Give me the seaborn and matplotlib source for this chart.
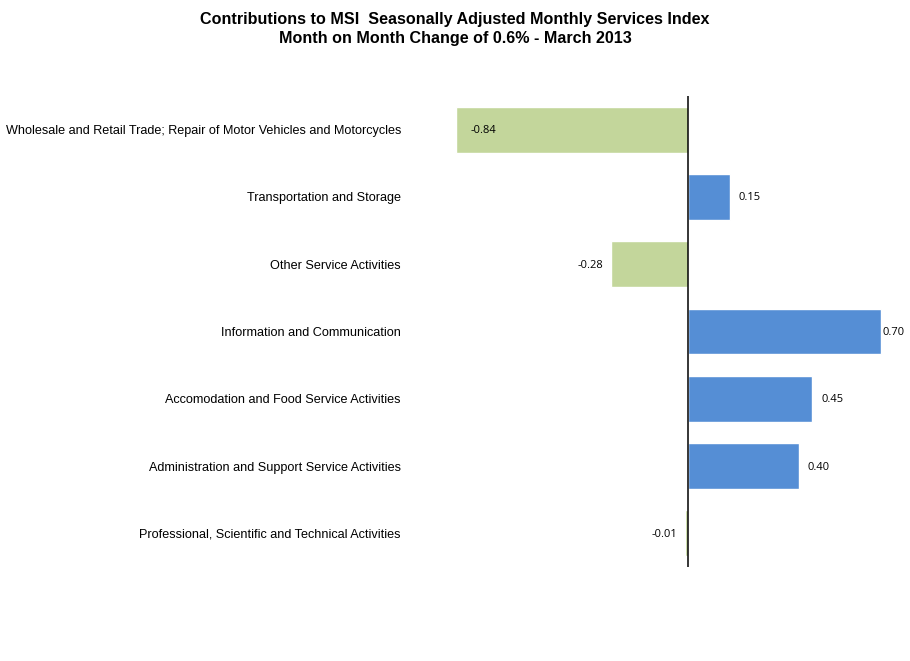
import matplotlib
matplotlib.use("Agg")
import matplotlib.pyplot as plt
import seaborn as sns
import pandas as pd
from matplotlib import transforms

categories = [
    "Wholesale and Retail Trade; Repair of Motor Vehicles and Motorcycles",
    "Transportation and Storage",
    "Other Service Activities",
    "Information and Communication",
    "Accomodation and Food Service Activities",
    "Administration and Support Service Activities",
    "Professional, Scientific and Technical Activities",
]
values = [-0.84, 0.15, -0.28, 0.70, 0.45, 0.40, -0.01]
value_labels = ["-0.84", "0.15", "-0.28", "0.70", "0.45", "0.40", "-0.01"]

title = ("Contributions to MSI  Seasonally Adjusted Monthly Services Index\n"
         "Month on Month Change of 0.6% - March 2013")

GREEN = "#C3D69B"
BLUE = "#558ED5"

sns.set_theme(style="white")
plt.rcParams["font.family"] = ["Liberation Sans", "DejaVu Sans"]
plt.rcParams["text.color"] = "black"

df = pd.DataFrame({"category": categories, "value": values})
colors = [BLUE if v >= 0 else GREEN for v in values]

fig = plt.figure(figsize=(9.1, 6.61), dpi=100)
ax = fig.add_axes([412 / 910, 1 - 567 / 661, (909 - 412) / 910, (567 - 96) / 661])

sns.barplot(data=df, x="value", y="category", hue="category", palette=colors,
            legend=False, orient="h", width=0.68, ax=ax, saturation=1)

ax.set_xlim(-1.0, 0.8)
ax.set_ylim(6.5, -0.5)
for s in ax.spines.values():
    s.set_visible(False)
ax.axvline(0, color="black", lw=1.1)
ax.set_xticks([])
ax.set_xlabel("")
ax.set_ylabel("")
ax.tick_params(axis="y", length=0, pad=8, labelsize=9.1, labelcolor="black")

vmin, vmax = min(values), max(values)
for i, (v, lab) in enumerate(zip(values, value_labels)):
    if v == vmin:
        dx, ha = 14, "left"
    elif v == vmax:
        dx, ha = 1, "left"
    elif v >= 0:
        dx, ha = 9, "left"
    else:
        dx, ha = -8, "right"
    off = transforms.offset_copy(ax.transData, fig=fig, x=dx, y=-1, units="dots")
    ax.text(v, i, lab, transform=off, ha=ha, va="center", fontsize=8.0,
            family=["Open Sans", "DejaVu Sans"], color="black")

fig.text(0.5, 1 - 29 / 661, title, ha="center", va="center", fontsize=11.6,
         fontweight="bold", linespacing=1.3, color="black")

fig.savefig("out.png", dpi=100)
